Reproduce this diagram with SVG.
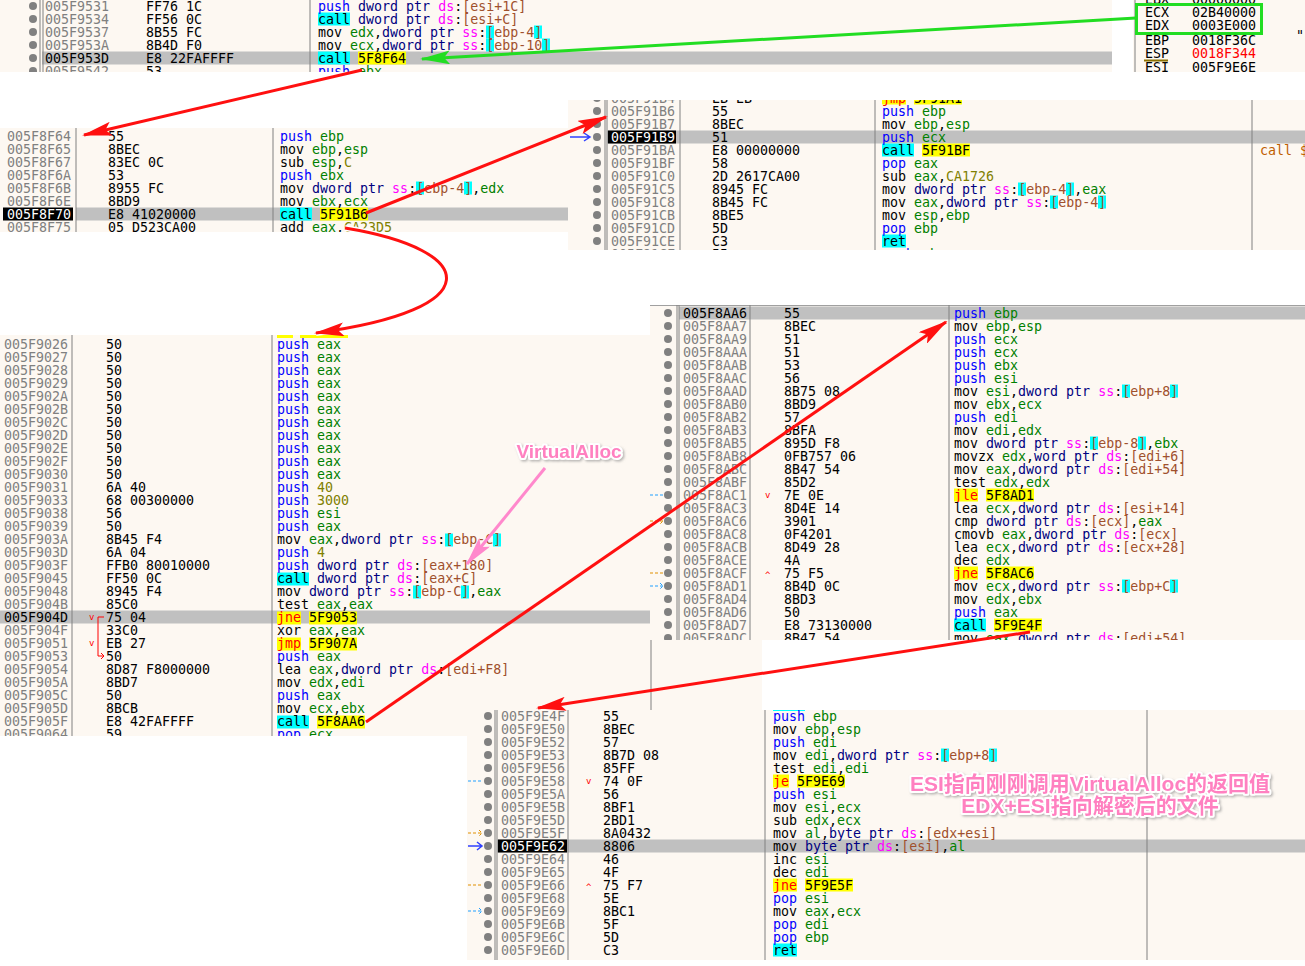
<svg xmlns="http://www.w3.org/2000/svg" width="1305" height="966" viewBox="0 0 1305 966">
<style>
text{font-family:"DejaVu Sans Mono","Liberation Mono",monospace;font-size:13.3px;fill:#000}
.a{fill:#808080}.w{fill:#fff}.p{fill:#0000ff}.r{fill:#008000}.k{fill:#000080}.s{fill:#ff00ff}.e{fill:#a0502d}.n{fill:#808000}.j{fill:#ff0000}
.bg{fill:#fdf8f2}.sel{fill:#c0c0c0}.blk{fill:#000}.cy{fill:#00ffff}.ye{fill:#ffff00}
.ln{stroke:#808080;stroke-width:1}.dot{fill:#808080}
.red{stroke:#ff1010;stroke-width:3;fill:none;marker-end:url(#ar)}
text.note{font-family:"Liberation Sans","Noto Sans CJK SC",sans-serif;font-weight:bold;fill:#ff80c0;stroke:#fff;stroke-width:4;paint-order:stroke;stroke-linejoin:round}
text.n1{font-size:19px}text.n2{font-size:21px}
text.jv{font-size:9px;fill:#ff0000}
</style>
<defs>
<marker id="ar" viewBox="0 0 30 14" refX="28" refY="7" markerWidth="30" markerHeight="14" markerUnits="userSpaceOnUse" orient="auto"><path d="M0,0 L30,7 L0,14 L6,7 Z" fill="#ff1010"/></marker>
<marker id="ag" viewBox="0 0 30 14" refX="28" refY="7" markerWidth="30" markerHeight="14" markerUnits="userSpaceOnUse" orient="auto"><path d="M0,0 L30,7 L0,14 L6,7 Z" fill="#22dd22"/></marker>
<marker id="ap" viewBox="0 0 30 14" refX="28" refY="7" markerWidth="30" markerHeight="14" markerUnits="userSpaceOnUse" orient="auto"><path d="M0,0 L30,7 L0,14 L6,7 Z" fill="#ff88cc"/></marker>
<clipPath id="cA"><rect x="0" y="0" width="1112" height="72"/></clipPath>
<clipPath id="cR"><rect x="1133" y="0" width="172" height="72"/></clipPath>
<clipPath id="cB"><rect x="0" y="128" width="568" height="104"/></clipPath>
<clipPath id="cC"><rect x="568" y="100" width="737" height="150"/></clipPath>
<clipPath id="cD"><rect x="0" y="335" width="762" height="401"/></clipPath>
<clipPath id="cE"><rect x="650" y="305" width="655" height="335"/></clipPath>
<clipPath id="cF"><rect x="467" y="710" width="838" height="250"/></clipPath>
<filter id="sh"><feDropShadow dx="1.5" dy="1.5" stdDeviation="1" flood-color="#888" flood-opacity="0.6"/></filter>
</defs>
<rect width="1305" height="966" fill="#fff"/>

<g id="panelA" clip-path="url(#cA)">
<rect class="bg" x="0" y="0" width="1112" height="72"/>
<rect class="sel" x="42" y="51.5" width="1070" height="13"/>
<line class="ln" x1="40" y1="0" x2="40" y2="72"/><line class="ln" x1="43" y1="0" x2="43" y2="72"/><line class="ln" x1="310" y1="0" x2="310" y2="72"/>
<circle class="dot" cx="33" cy="6" r="4"/><circle class="dot" cx="33" cy="19" r="4"/><circle class="dot" cx="33" cy="32" r="4"/><circle class="dot" cx="33" cy="45" r="4"/><circle class="dot" cx="33" cy="58" r="4"/><circle class="dot" cx="33" cy="71" r="4"/>
<text class="a"><tspan x="45" y="10.5">005F9531</tspan><tspan x="45" y="23.5">005F9534</tspan><tspan x="45" y="36.5">005F9537</tspan><tspan x="45" y="49.5">005F953A</tspan><tspan x="45" y="62.5" style="fill:#000">005F953D</tspan><tspan x="45" y="75.5">005F9542</tspan></text>
<text><tspan x="146" y="10.5">FF76 1C</tspan><tspan x="146" y="23.5">FF56 0C</tspan><tspan x="146" y="36.5">8B55 FC</tspan><tspan x="146" y="49.5">8B4D F0</tspan><tspan x="146" y="62.5">E8 22FAFFFF</tspan><tspan x="146" y="75.5">53</tspan></text>
<rect class="cy" x="318" y="12.5" width="32" height="13"/>
<rect class="cy" x="486" y="25.5" width="8" height="13"/><rect class="cy" x="534" y="25.5" width="8" height="13"/>
<rect class="cy" x="486" y="38.5" width="8" height="13"/><rect class="cy" x="542" y="38.5" width="8" height="13"/>
<rect class="cy" x="318" y="51.5" width="32" height="13"/><rect class="ye" x="358" y="51.5" width="48" height="13"/>
<text x="318" y="10.5"><tspan class="p">push</tspan> <tspan class="k">dword ptr</tspan> <tspan class="s">ds</tspan>:<tspan class="e">[esi+1C]</tspan></text>
<text x="318" y="23.5">call <tspan class="k">dword ptr</tspan> <tspan class="s">ds</tspan>:<tspan class="e">[esi+C]</tspan></text>
<text x="318" y="36.5">mov <tspan class="r">edx</tspan>,<tspan class="k">dword ptr</tspan> <tspan class="s">ss</tspan>:<tspan class="e">[ebp-4]</tspan></text>
<text x="318" y="49.5">mov <tspan class="r">ecx</tspan>,<tspan class="k">dword ptr</tspan> <tspan class="s">ss</tspan>:<tspan class="e">[ebp-10]</tspan></text>
<text x="318" y="62.5">call 5F8F64</text>
<text x="318" y="75.5"><tspan class="p">push</tspan> <tspan class="r">ebx</tspan></text>
</g>

<g id="registers" clip-path="url(#cR)">
<rect class="bg" x="1133" y="0" width="172" height="72"/>
<line class="ln" x1="1135" y1="0" x2="1135" y2="72"/>
<text><tspan x="1145" y="3.5">EBX</tspan><tspan x="1192" y="3.5">00000000</tspan><tspan x="1145" y="16.5">ECX</tspan><tspan x="1192" y="16.5">02B40000</tspan><tspan x="1145" y="29.5">EDX</tspan><tspan x="1192" y="29.5">0003E000</tspan><tspan x="1145" y="44.5">EBP</tspan><tspan x="1192" y="44.5">0018F36C</tspan><tspan x="1145" y="57.5">ESP</tspan><tspan x="1192" y="57.5" style="fill:#ff0000">0018F344</tspan><tspan x="1145" y="71.5">ESI</tspan><tspan x="1192" y="71.5">005F9E6E</tspan><tspan x="1296" y="40">"</tspan></text>
<line x1="1144" y1="60.5" x2="1168" y2="60.5" stroke="#8b7000" stroke-width="2"/>
<rect x="1136.5" y="4.5" width="125" height="29" fill="none" stroke="#22dd22" stroke-width="3"/>
</g>

<g id="panelB" clip-path="url(#cB)">
<rect class="bg" x="0" y="128" width="568" height="104"/>
<rect class="sel" x="76" y="207.5" width="492" height="13"/>
<rect class="blk" x="3" y="207.5" width="70" height="13"/>
<line class="ln" x1="76" y1="128" x2="76" y2="232"/><line class="ln" x1="273" y1="128" x2="273" y2="232"/>
<text class="a"><tspan x="7" y="140.5">005F8F64</tspan><tspan x="7" y="153.5">005F8F65</tspan><tspan x="7" y="166.5">005F8F67</tspan><tspan x="7" y="179.5">005F8F6A</tspan><tspan x="7" y="192.5">005F8F6B</tspan><tspan x="7" y="205.5">005F8F6E</tspan><tspan x="7" y="218.5" class="w">005F8F70</tspan><tspan x="7" y="231.5">005F8F75</tspan></text>
<text><tspan x="108" y="140.5">55</tspan><tspan x="108" y="153.5">8BEC</tspan><tspan x="108" y="166.5">83EC 0C</tspan><tspan x="108" y="179.5">53</tspan><tspan x="108" y="192.5">8955 FC</tspan><tspan x="108" y="205.5">8BD9</tspan><tspan x="108" y="218.5">E8 41020000</tspan><tspan x="108" y="231.5">05 D523CA00</tspan></text>
<rect class="cy" x="416" y="181.5" width="8" height="13"/><rect class="cy" x="464" y="181.5" width="8" height="13"/>
<rect class="cy" x="280" y="207.5" width="32" height="13"/><rect class="ye" x="320" y="207.5" width="48" height="13"/>
<text x="280" y="140.5"><tspan class="p">push</tspan> <tspan class="r">ebp</tspan></text>
<text x="280" y="153.5">mov <tspan class="r">ebp</tspan>,<tspan class="r">esp</tspan></text>
<text x="280" y="166.5">sub <tspan class="r">esp</tspan>,<tspan class="n">C</tspan></text>
<text x="280" y="179.5"><tspan class="p">push</tspan> <tspan class="r">ebx</tspan></text>
<text x="280" y="192.5">mov <tspan class="k">dword ptr</tspan> <tspan class="s">ss</tspan>:<tspan class="e">[ebp-4]</tspan>,<tspan class="r">edx</tspan></text>
<text x="280" y="205.5">mov <tspan class="r">ebx</tspan>,<tspan class="r">ecx</tspan></text>
<text x="280" y="218.5">call 5F91B6</text>
<text x="280" y="231.5">add <tspan class="r">eax</tspan>,<tspan class="n">CA23D5</tspan></text>
</g>

<g id="panelC" clip-path="url(#cC)">
<rect class="bg" x="568" y="100" width="737" height="150"/>
<rect class="sel" x="607" y="130.5" width="698" height="13"/>
<rect class="blk" x="608" y="130.5" width="68" height="13"/>
<line class="ln" x1="605" y1="100" x2="605" y2="250"/><line class="ln" x1="607" y1="100" x2="607" y2="250"/><line class="ln" x1="680" y1="100" x2="680" y2="250"/><line class="ln" x1="875" y1="100" x2="875" y2="250"/><line class="ln" x1="1252" y1="100" x2="1252" y2="250"/>
<g class="dot"><circle cx="597" cy="98" r="4"/><circle cx="597" cy="111" r="4"/><circle cx="597" cy="124" r="4"/><circle cx="597" cy="137" r="4"/><circle cx="597" cy="150" r="4"/><circle cx="597" cy="163" r="4"/><circle cx="597" cy="176" r="4"/><circle cx="597" cy="189" r="4"/><circle cx="597" cy="202" r="4"/><circle cx="597" cy="215" r="4"/><circle cx="597" cy="228" r="4"/><circle cx="597" cy="241" r="4"/></g>
<path d="M570,137 H590 M584,133 L590,137 L584,141" stroke="#3040ff" stroke-width="1.5" fill="none"/>
<text class="a"><tspan x="611" y="102.5">005F91B4</tspan><tspan x="611" y="115.5">005F91B6</tspan><tspan x="611" y="128.5">005F91B7</tspan><tspan x="611" y="141.5" class="w">005F91B9</tspan><tspan x="611" y="154.5">005F91BA</tspan><tspan x="611" y="167.5">005F91BF</tspan><tspan x="611" y="180.5">005F91C0</tspan><tspan x="611" y="193.5">005F91C5</tspan><tspan x="611" y="206.5">005F91C8</tspan><tspan x="611" y="219.5">005F91CB</tspan><tspan x="611" y="232.5">005F91CD</tspan><tspan x="611" y="245.5">005F91CE</tspan><tspan x="611" y="258.5">005F91CF</tspan></text>
<text><tspan x="712" y="102.5">EB EB</tspan><tspan x="712" y="115.5">55</tspan><tspan x="712" y="128.5">8BEC</tspan><tspan x="712" y="141.5">51</tspan><tspan x="712" y="154.5">E8 00000000</tspan><tspan x="712" y="167.5">58</tspan><tspan x="712" y="180.5">2D 2617CA00</tspan><tspan x="712" y="193.5">8945 FC</tspan><tspan x="712" y="206.5">8B45 FC</tspan><tspan x="712" y="219.5">8BE5</tspan><tspan x="712" y="232.5">5D</tspan><tspan x="712" y="245.5">C3</tspan><tspan x="712" y="258.5">55</tspan></text>
<rect class="ye" x="882" y="91.5" width="24" height="13"/><rect class="ye" x="914" y="91.5" width="48" height="13"/>
<rect class="cy" x="882" y="143.5" width="32" height="13"/><rect class="ye" x="922" y="143.5" width="48" height="13"/>
<rect class="cy" x="1018" y="182.5" width="8" height="13"/><rect class="cy" x="1066" y="182.5" width="8" height="13"/>
<rect class="cy" x="1050" y="195.5" width="8" height="13"/><rect class="cy" x="1098" y="195.5" width="8" height="13"/>
<rect class="cy" x="882" y="234.5" width="24" height="13"/>
<text x="882" y="102.5"><tspan class="j">jmp</tspan> 5F91A1</text>
<text x="882" y="115.5"><tspan class="p">push</tspan> <tspan class="r">ebp</tspan></text>
<text x="882" y="128.5">mov <tspan class="r">ebp</tspan>,<tspan class="r">esp</tspan></text>
<text x="882" y="141.5"><tspan class="p">push</tspan> <tspan class="r">ecx</tspan></text>
<text x="882" y="154.5">call 5F91BF</text>
<text x="882" y="167.5"><tspan class="p">pop</tspan> <tspan class="r">eax</tspan></text>
<text x="882" y="180.5">sub <tspan class="r">eax</tspan>,<tspan class="n">CA1726</tspan></text>
<text x="882" y="193.5">mov <tspan class="k">dword ptr</tspan> <tspan class="s">ss</tspan>:<tspan class="e">[ebp-4]</tspan>,<tspan class="r">eax</tspan></text>
<text x="882" y="206.5">mov <tspan class="r">eax</tspan>,<tspan class="k">dword ptr</tspan> <tspan class="s">ss</tspan>:<tspan class="e">[ebp-4]</tspan></text>
<text x="882" y="219.5">mov <tspan class="r">esp</tspan>,<tspan class="r">ebp</tspan></text>
<text x="882" y="232.5"><tspan class="p">pop</tspan> <tspan class="r">ebp</tspan></text>
<text x="882" y="245.5">ret</text>
<text x="882" y="258.5"><tspan class="p">push</tspan> <tspan class="r">ebp</tspan></text>
<text x="1260" y="154.5" style="fill:#c06000">call $</text>
</g>

<g id="panelD" clip-path="url(#cD)">
<rect class="bg" x="0" y="335" width="762" height="401"/>
<rect class="sel" x="0" y="610.5" width="650" height="13"/>
<line class="ln" x1="72" y1="335" x2="72" y2="736"/><line class="ln" x1="272" y1="335" x2="272" y2="736"/><line class="ln" x1="651" y1="335" x2="651" y2="736"/>
<rect class="ye" x="277" y="329" width="16" height="9"/><rect class="ye" x="300" y="329" width="48" height="9"/>
<text class="a"><tspan x="4" y="348.5">005F9026</tspan><tspan x="4" y="361.5">005F9027</tspan><tspan x="4" y="374.5">005F9028</tspan><tspan x="4" y="387.5">005F9029</tspan><tspan x="4" y="400.5">005F902A</tspan><tspan x="4" y="413.5">005F902B</tspan><tspan x="4" y="426.5">005F902C</tspan><tspan x="4" y="439.5">005F902D</tspan><tspan x="4" y="452.5">005F902E</tspan><tspan x="4" y="465.5">005F902F</tspan><tspan x="4" y="478.5">005F9030</tspan><tspan x="4" y="491.5">005F9031</tspan><tspan x="4" y="504.5">005F9033</tspan><tspan x="4" y="517.5">005F9038</tspan><tspan x="4" y="530.5">005F9039</tspan><tspan x="4" y="543.5">005F903A</tspan><tspan x="4" y="556.5">005F903D</tspan><tspan x="4" y="569.5">005F903F</tspan><tspan x="4" y="582.5">005F9045</tspan><tspan x="4" y="595.5">005F9048</tspan><tspan x="4" y="608.5">005F904B</tspan><tspan x="4" y="621.5" style="fill:#000">005F904D</tspan><tspan x="4" y="634.5">005F904F</tspan><tspan x="4" y="647.5">005F9051</tspan><tspan x="4" y="660.5">005F9053</tspan><tspan x="4" y="673.5">005F9054</tspan><tspan x="4" y="686.5">005F905A</tspan><tspan x="4" y="699.5">005F905C</tspan><tspan x="4" y="712.5">005F905D</tspan><tspan x="4" y="725.5">005F905F</tspan><tspan x="4" y="738.5">005F9064</tspan></text>
<text><tspan x="106" y="348.5">50</tspan><tspan x="106" y="361.5">50</tspan><tspan x="106" y="374.5">50</tspan><tspan x="106" y="387.5">50</tspan><tspan x="106" y="400.5">50</tspan><tspan x="106" y="413.5">50</tspan><tspan x="106" y="426.5">50</tspan><tspan x="106" y="439.5">50</tspan><tspan x="106" y="452.5">50</tspan><tspan x="106" y="465.5">50</tspan><tspan x="106" y="478.5">50</tspan><tspan x="106" y="491.5">6A 40</tspan><tspan x="106" y="504.5">68 00300000</tspan><tspan x="106" y="517.5">56</tspan><tspan x="106" y="530.5">50</tspan><tspan x="106" y="543.5">8B45 F4</tspan><tspan x="106" y="556.5">6A 04</tspan><tspan x="106" y="569.5">FFB0 80010000</tspan><tspan x="106" y="582.5">FF50 0C</tspan><tspan x="106" y="595.5">8945 F4</tspan><tspan x="106" y="608.5">85C0</tspan><tspan x="106" y="621.5">75 04</tspan><tspan x="106" y="634.5">33C0</tspan><tspan x="106" y="647.5">EB 27</tspan><tspan x="106" y="660.5">50</tspan><tspan x="106" y="673.5">8D87 F8000000</tspan><tspan x="106" y="686.5">8BD7</tspan><tspan x="106" y="699.5">50</tspan><tspan x="106" y="712.5">8BCB</tspan><tspan x="106" y="725.5">E8 42FAFFFF</tspan><tspan x="106" y="738.5">59</tspan></text>
<text class="jv" x="89" y="620">v</text><text class="jv" x="89" y="646">v</text>
<path d="M104,617 H98 V656 H104 M101,653 L104,656 L101,659" stroke="#ff0000" stroke-width="1" fill="none"/>
<rect class="cy" x="445" y="533.5" width="8" height="13"/><rect class="cy" x="493" y="533.5" width="8" height="13"/>
<rect class="cy" x="277" y="572.5" width="32" height="13"/>
<rect class="cy" x="413" y="585.5" width="8" height="13"/><rect class="cy" x="461" y="585.5" width="8" height="13"/>
<rect class="ye" x="277" y="611.5" width="24" height="13"/><rect class="ye" x="309" y="611.5" width="48" height="13"/>
<rect class="ye" x="277" y="637.5" width="24" height="13"/><rect class="ye" x="309" y="637.5" width="48" height="13"/>
<rect class="cy" x="277" y="715.5" width="32" height="13"/><rect class="ye" x="317" y="715.5" width="48" height="13"/>
<text x="277" y="348.5"><tspan class="p">push</tspan> <tspan class="r">eax</tspan></text>
<text x="277" y="361.5"><tspan class="p">push</tspan> <tspan class="r">eax</tspan></text>
<text x="277" y="374.5"><tspan class="p">push</tspan> <tspan class="r">eax</tspan></text>
<text x="277" y="387.5"><tspan class="p">push</tspan> <tspan class="r">eax</tspan></text>
<text x="277" y="400.5"><tspan class="p">push</tspan> <tspan class="r">eax</tspan></text>
<text x="277" y="413.5"><tspan class="p">push</tspan> <tspan class="r">eax</tspan></text>
<text x="277" y="426.5"><tspan class="p">push</tspan> <tspan class="r">eax</tspan></text>
<text x="277" y="439.5"><tspan class="p">push</tspan> <tspan class="r">eax</tspan></text>
<text x="277" y="452.5"><tspan class="p">push</tspan> <tspan class="r">eax</tspan></text>
<text x="277" y="465.5"><tspan class="p">push</tspan> <tspan class="r">eax</tspan></text>
<text x="277" y="478.5"><tspan class="p">push</tspan> <tspan class="r">eax</tspan></text>
<text x="277" y="491.5"><tspan class="p">push</tspan> <tspan class="n">40</tspan></text>
<text x="277" y="504.5"><tspan class="p">push</tspan> <tspan class="n">3000</tspan></text>
<text x="277" y="517.5"><tspan class="p">push</tspan> <tspan class="r">esi</tspan></text>
<text x="277" y="530.5"><tspan class="p">push</tspan> <tspan class="r">eax</tspan></text>
<text x="277" y="543.5">mov <tspan class="r">eax</tspan>,<tspan class="k">dword ptr</tspan> <tspan class="s">ss</tspan>:<tspan class="e">[ebp-C]</tspan></text>
<text x="277" y="556.5"><tspan class="p">push</tspan> <tspan class="n">4</tspan></text>
<text x="277" y="569.5"><tspan class="p">push</tspan> <tspan class="k">dword ptr</tspan> <tspan class="s">ds</tspan>:<tspan class="e">[eax+180]</tspan></text>
<text x="277" y="582.5">call <tspan class="k">dword ptr</tspan> <tspan class="s">ds</tspan>:<tspan class="e">[eax+C]</tspan></text>
<text x="277" y="595.5">mov <tspan class="k">dword ptr</tspan> <tspan class="s">ss</tspan>:<tspan class="e">[ebp-C]</tspan>,<tspan class="r">eax</tspan></text>
<text x="277" y="608.5">test <tspan class="r">eax</tspan>,<tspan class="r">eax</tspan></text>
<text x="277" y="621.5"><tspan class="j">jne</tspan> 5F9053</text>
<text x="277" y="634.5">xor <tspan class="r">eax</tspan>,<tspan class="r">eax</tspan></text>
<text x="277" y="647.5"><tspan class="j">jmp</tspan> 5F907A</text>
<text x="277" y="660.5"><tspan class="p">push</tspan> <tspan class="r">eax</tspan></text>
<text x="277" y="673.5">lea <tspan class="r">eax</tspan>,<tspan class="k">dword ptr</tspan> <tspan class="s">ds</tspan>:<tspan class="e">[edi+F8]</tspan></text>
<text x="277" y="686.5">mov <tspan class="r">edx</tspan>,<tspan class="r">edi</tspan></text>
<text x="277" y="699.5"><tspan class="p">push</tspan> <tspan class="r">eax</tspan></text>
<text x="277" y="712.5">mov <tspan class="r">ecx</tspan>,<tspan class="r">ebx</tspan></text>
<text x="277" y="725.5">call 5F8AA6</text>
<text x="277" y="738.5"><tspan class="p">pop</tspan> <tspan class="r">ecx</tspan></text>
</g>

<g id="panelE" clip-path="url(#cE)">
<rect class="bg" x="650" y="305" width="655" height="335"/>
<line x1="650" y1="305.5" x2="1305" y2="305.5" stroke="#a0a0a0"/>
<rect class="sel" x="679" y="306.5" width="626" height="13"/>
<line class="ln" x1="677" y1="305" x2="677" y2="640"/><line class="ln" x1="679" y1="305" x2="679" y2="640"/><line class="ln" x1="750" y1="305" x2="750" y2="640"/><line class="ln" x1="949" y1="305" x2="949" y2="640"/>
<g class="dot"><circle cx="668" cy="313" r="4"/><circle cx="668" cy="326" r="4"/><circle cx="668" cy="339" r="4"/><circle cx="668" cy="352" r="4"/><circle cx="668" cy="365" r="4"/><circle cx="668" cy="378" r="4"/><circle cx="668" cy="391" r="4"/><circle cx="668" cy="404" r="4"/><circle cx="668" cy="417" r="4"/><circle cx="668" cy="430" r="4"/><circle cx="668" cy="443" r="4"/><circle cx="668" cy="456" r="4"/><circle cx="668" cy="469" r="4"/><circle cx="668" cy="482" r="4"/><circle cx="668" cy="495" r="4"/><circle cx="668" cy="508" r="4"/><circle cx="668" cy="521" r="4"/><circle cx="668" cy="534" r="4"/><circle cx="668" cy="547" r="4"/><circle cx="668" cy="560" r="4"/><circle cx="668" cy="573" r="4"/><circle cx="668" cy="586" r="4"/><circle cx="668" cy="599" r="4"/><circle cx="668" cy="612" r="4"/><circle cx="668" cy="625" r="4"/><circle cx="668" cy="638" r="4"/></g>
<path d="M650,495 H664" stroke="#20a0ff" stroke-dasharray="3,2" fill="none"/>
<path d="M650,521 H663 M660,518 L663,521 L660,524" stroke="#e09000" stroke-dasharray="3,2" fill="none"/>
<path d="M650,573 H664" stroke="#e09000" stroke-dasharray="3,2" fill="none"/>
<path d="M650,586 H663 M660,583 L663,586 L660,589" stroke="#20a0ff" stroke-dasharray="3,2" fill="none"/>
<text class="a"><tspan x="683" y="317.5" style="fill:#000">005F8AA6</tspan><tspan x="683" y="330.5">005F8AA7</tspan><tspan x="683" y="343.5">005F8AA9</tspan><tspan x="683" y="356.5">005F8AAA</tspan><tspan x="683" y="369.5">005F8AAB</tspan><tspan x="683" y="382.5">005F8AAC</tspan><tspan x="683" y="395.5">005F8AAD</tspan><tspan x="683" y="408.5">005F8AB0</tspan><tspan x="683" y="421.5">005F8AB2</tspan><tspan x="683" y="434.5">005F8AB3</tspan><tspan x="683" y="447.5">005F8AB5</tspan><tspan x="683" y="460.5">005F8AB8</tspan><tspan x="683" y="473.5">005F8ABC</tspan><tspan x="683" y="486.5">005F8ABF</tspan><tspan x="683" y="499.5">005F8AC1</tspan><tspan x="683" y="512.5">005F8AC3</tspan><tspan x="683" y="525.5">005F8AC6</tspan><tspan x="683" y="538.5">005F8AC8</tspan><tspan x="683" y="551.5">005F8ACB</tspan><tspan x="683" y="564.5">005F8ACE</tspan><tspan x="683" y="577.5">005F8ACF</tspan><tspan x="683" y="590.5">005F8AD1</tspan><tspan x="683" y="603.5">005F8AD4</tspan><tspan x="683" y="616.5">005F8AD6</tspan><tspan x="683" y="629.5">005F8AD7</tspan><tspan x="683" y="642.5">005F8ADC</tspan></text>
<text><tspan x="784" y="317.5">55</tspan><tspan x="784" y="330.5">8BEC</tspan><tspan x="784" y="343.5">51</tspan><tspan x="784" y="356.5">51</tspan><tspan x="784" y="369.5">53</tspan><tspan x="784" y="382.5">56</tspan><tspan x="784" y="395.5">8B75 08</tspan><tspan x="784" y="408.5">8BD9</tspan><tspan x="784" y="421.5">57</tspan><tspan x="784" y="434.5">8BFA</tspan><tspan x="784" y="447.5">895D F8</tspan><tspan x="784" y="460.5">0FB757 06</tspan><tspan x="784" y="473.5">8B47 54</tspan><tspan x="784" y="486.5">85D2</tspan><tspan x="784" y="499.5">7E 0E</tspan><tspan x="784" y="512.5">8D4E 14</tspan><tspan x="784" y="525.5">3901</tspan><tspan x="784" y="538.5">0F4201</tspan><tspan x="784" y="551.5">8D49 28</tspan><tspan x="784" y="564.5">4A</tspan><tspan x="784" y="577.5">75 F5</tspan><tspan x="784" y="590.5">8B4D 0C</tspan><tspan x="784" y="603.5">8BD3</tspan><tspan x="784" y="616.5">50</tspan><tspan x="784" y="629.5">E8 73130000</tspan><tspan x="784" y="642.5">8B47 54</tspan></text>
<text class="jv" x="765" y="498">v</text><text class="jv" x="765" y="578">^</text>
<rect class="cy" x="1122" y="384.5" width="8" height="13"/><rect class="cy" x="1170" y="384.5" width="8" height="13"/>
<rect class="cy" x="1090" y="436.5" width="8" height="13"/><rect class="cy" x="1138" y="436.5" width="8" height="13"/>
<rect class="ye" x="954" y="488.5" width="24" height="13"/><rect class="ye" x="986" y="488.5" width="48" height="13"/>
<rect class="ye" x="954" y="566.5" width="24" height="13"/><rect class="ye" x="986" y="566.5" width="48" height="13"/>
<rect class="cy" x="1122" y="579.5" width="8" height="13"/><rect class="cy" x="1170" y="579.5" width="8" height="13"/>
<rect class="cy" x="954" y="618.5" width="32" height="13"/><rect class="ye" x="994" y="618.5" width="48" height="13"/>
<text x="954" y="317.5"><tspan class="p">push</tspan> <tspan class="r">ebp</tspan></text>
<text x="954" y="330.5">mov <tspan class="r">ebp</tspan>,<tspan class="r">esp</tspan></text>
<text x="954" y="343.5"><tspan class="p">push</tspan> <tspan class="r">ecx</tspan></text>
<text x="954" y="356.5"><tspan class="p">push</tspan> <tspan class="r">ecx</tspan></text>
<text x="954" y="369.5"><tspan class="p">push</tspan> <tspan class="r">ebx</tspan></text>
<text x="954" y="382.5"><tspan class="p">push</tspan> <tspan class="r">esi</tspan></text>
<text x="954" y="395.5">mov <tspan class="r">esi</tspan>,<tspan class="k">dword ptr</tspan> <tspan class="s">ss</tspan>:<tspan class="e">[ebp+8]</tspan></text>
<text x="954" y="408.5">mov <tspan class="r">ebx</tspan>,<tspan class="r">ecx</tspan></text>
<text x="954" y="421.5"><tspan class="p">push</tspan> <tspan class="r">edi</tspan></text>
<text x="954" y="434.5">mov <tspan class="r">edi</tspan>,<tspan class="r">edx</tspan></text>
<text x="954" y="447.5">mov <tspan class="k">dword ptr</tspan> <tspan class="s">ss</tspan>:<tspan class="e">[ebp-8]</tspan>,<tspan class="r">ebx</tspan></text>
<text x="954" y="460.5">movzx <tspan class="r">edx</tspan>,<tspan class="k">word ptr</tspan> <tspan class="s">ds</tspan>:<tspan class="e">[edi+6]</tspan></text>
<text x="954" y="473.5">mov <tspan class="r">eax</tspan>,<tspan class="k">dword ptr</tspan> <tspan class="s">ds</tspan>:<tspan class="e">[edi+54]</tspan></text>
<text x="954" y="486.5">test <tspan class="r">edx</tspan>,<tspan class="r">edx</tspan></text>
<text x="954" y="499.5"><tspan class="j">jle</tspan> 5F8AD1</text>
<text x="954" y="512.5">lea <tspan class="r">ecx</tspan>,<tspan class="k">dword ptr</tspan> <tspan class="s">ds</tspan>:<tspan class="e">[esi+14]</tspan></text>
<text x="954" y="525.5">cmp <tspan class="k">dword ptr</tspan> <tspan class="s">ds</tspan>:<tspan class="e">[ecx]</tspan>,<tspan class="r">eax</tspan></text>
<text x="954" y="538.5">cmovb <tspan class="r">eax</tspan>,<tspan class="k">dword ptr</tspan> <tspan class="s">ds</tspan>:<tspan class="e">[ecx]</tspan></text>
<text x="954" y="551.5">lea <tspan class="r">ecx</tspan>,<tspan class="k">dword ptr</tspan> <tspan class="s">ds</tspan>:<tspan class="e">[ecx+28]</tspan></text>
<text x="954" y="564.5">dec <tspan class="r">edx</tspan></text>
<text x="954" y="577.5"><tspan class="j">jne</tspan> 5F8AC6</text>
<text x="954" y="590.5">mov <tspan class="r">ecx</tspan>,<tspan class="k">dword ptr</tspan> <tspan class="s">ss</tspan>:<tspan class="e">[ebp+C]</tspan></text>
<text x="954" y="603.5">mov <tspan class="r">edx</tspan>,<tspan class="r">ebx</tspan></text>
<text x="954" y="616.5"><tspan class="p">push</tspan> <tspan class="r">eax</tspan></text>
<text x="954" y="629.5">call 5F9E4F</text>
<text x="954" y="642.5">mov <tspan class="r">eax</tspan>,<tspan class="k">dword ptr</tspan> <tspan class="s">ds</tspan>:<tspan class="e">[edi+54]</tspan></text>
</g>

<g id="panelF" clip-path="url(#cF)">
<rect class="bg" x="467" y="710" width="838" height="250"/>
<rect class="sel" x="497" y="839.5" width="808" height="13"/>
<rect class="blk" x="498" y="839.5" width="69" height="13"/>
<line class="ln" x1="495" y1="710" x2="495" y2="960"/><line class="ln" x1="497" y1="710" x2="497" y2="960"/><line class="ln" x1="568" y1="710" x2="568" y2="960"/><line class="ln" x1="765" y1="710" x2="765" y2="960"/><line class="ln" x1="1147" y1="710" x2="1147" y2="960"/>
<g class="dot"><circle cx="488" cy="716" r="4"/><circle cx="488" cy="729" r="4"/><circle cx="488" cy="742" r="4"/><circle cx="488" cy="755" r="4"/><circle cx="488" cy="768" r="4"/><circle cx="488" cy="781" r="4"/><circle cx="488" cy="794" r="4"/><circle cx="488" cy="807" r="4"/><circle cx="488" cy="820" r="4"/><circle cx="488" cy="833" r="4"/><circle cx="488" cy="846" r="4"/><circle cx="488" cy="859" r="4"/><circle cx="488" cy="872" r="4"/><circle cx="488" cy="885" r="4"/><circle cx="488" cy="898" r="4"/><circle cx="488" cy="911" r="4"/><circle cx="488" cy="924" r="4"/><circle cx="488" cy="937" r="4"/><circle cx="488" cy="950" r="4"/></g>
<path d="M468,781 H483" stroke="#20a0ff" stroke-dasharray="3,2" fill="none"/>
<path d="M468,833 H482 M479,830 L482,833 L479,836" stroke="#e09000" stroke-dasharray="3,2" fill="none"/>
<path d="M468,846 H482 M477,842 L482,846 L477,850" stroke="#3040ff" stroke-width="1.5" fill="none"/>
<path d="M468,885 H483" stroke="#e09000" stroke-dasharray="3,2" fill="none"/>
<path d="M468,911 H482 M479,908 L482,911 L479,914" stroke="#20a0ff" stroke-dasharray="3,2" fill="none"/>
<text class="a"><tspan x="501" y="720.5">005F9E4F</tspan><tspan x="501" y="733.5">005F9E50</tspan><tspan x="501" y="746.5">005F9E52</tspan><tspan x="501" y="759.5">005F9E53</tspan><tspan x="501" y="772.5">005F9E56</tspan><tspan x="501" y="785.5">005F9E58</tspan><tspan x="501" y="798.5">005F9E5A</tspan><tspan x="501" y="811.5">005F9E5B</tspan><tspan x="501" y="824.5">005F9E5D</tspan><tspan x="501" y="837.5">005F9E5F</tspan><tspan x="501" y="850.5" class="w">005F9E62</tspan><tspan x="501" y="863.5">005F9E64</tspan><tspan x="501" y="876.5">005F9E65</tspan><tspan x="501" y="889.5">005F9E66</tspan><tspan x="501" y="902.5">005F9E68</tspan><tspan x="501" y="915.5">005F9E69</tspan><tspan x="501" y="928.5">005F9E6B</tspan><tspan x="501" y="941.5">005F9E6C</tspan><tspan x="501" y="954.5">005F9E6D</tspan></text>
<text><tspan x="603" y="720.5">55</tspan><tspan x="603" y="733.5">8BEC</tspan><tspan x="603" y="746.5">57</tspan><tspan x="603" y="759.5">8B7D 08</tspan><tspan x="603" y="772.5">85FF</tspan><tspan x="603" y="785.5">74 0F</tspan><tspan x="603" y="798.5">56</tspan><tspan x="603" y="811.5">8BF1</tspan><tspan x="603" y="824.5">2BD1</tspan><tspan x="603" y="837.5">8A0432</tspan><tspan x="603" y="850.5">8806</tspan><tspan x="603" y="863.5">46</tspan><tspan x="603" y="876.5">4F</tspan><tspan x="603" y="889.5">75 F7</tspan><tspan x="603" y="902.5">5E</tspan><tspan x="603" y="915.5">8BC1</tspan><tspan x="603" y="928.5">5F</tspan><tspan x="603" y="941.5">5D</tspan><tspan x="603" y="954.5">C3</tspan></text>
<text class="jv" x="586" y="784">v</text><text class="jv" x="586" y="890">^</text>
<rect class="cy" x="773" y="708" width="32" height="3"/>
<rect class="cy" x="941" y="748.5" width="8" height="13"/><rect class="cy" x="989" y="748.5" width="8" height="13"/>
<rect class="ye" x="773" y="774.5" width="16" height="13"/><rect class="ye" x="797" y="774.5" width="48" height="13"/>
<rect class="ye" x="773" y="878.5" width="24" height="13"/><rect class="ye" x="805" y="878.5" width="48" height="13"/>
<rect class="cy" x="773" y="943.5" width="24" height="13"/>
<text x="773" y="720.5"><tspan class="p">push</tspan> <tspan class="r">ebp</tspan></text>
<text x="773" y="733.5">mov <tspan class="r">ebp</tspan>,<tspan class="r">esp</tspan></text>
<text x="773" y="746.5"><tspan class="p">push</tspan> <tspan class="r">edi</tspan></text>
<text x="773" y="759.5">mov <tspan class="r">edi</tspan>,<tspan class="k">dword ptr</tspan> <tspan class="s">ss</tspan>:<tspan class="e">[ebp+8]</tspan></text>
<text x="773" y="772.5">test <tspan class="r">edi</tspan>,<tspan class="r">edi</tspan></text>
<text x="773" y="785.5"><tspan class="j">je</tspan> 5F9E69</text>
<text x="773" y="798.5"><tspan class="p">push</tspan> <tspan class="r">esi</tspan></text>
<text x="773" y="811.5">mov <tspan class="r">esi</tspan>,<tspan class="r">ecx</tspan></text>
<text x="773" y="824.5">sub <tspan class="r">edx</tspan>,<tspan class="r">ecx</tspan></text>
<text x="773" y="837.5">mov <tspan class="r">al</tspan>,<tspan class="k">byte ptr</tspan> <tspan class="s">ds</tspan>:<tspan class="e">[edx+esi]</tspan></text>
<text x="773" y="850.5">mov <tspan class="k">byte ptr</tspan> <tspan class="s">ds</tspan>:<tspan class="e">[esi]</tspan>,<tspan class="r">al</tspan></text>
<text x="773" y="863.5">inc <tspan class="r">esi</tspan></text>
<text x="773" y="876.5">dec <tspan class="r">edi</tspan></text>
<text x="773" y="889.5"><tspan class="j">jne</tspan> 5F9E5F</text>
<text x="773" y="902.5"><tspan class="p">pop</tspan> <tspan class="r">esi</tspan></text>
<text x="773" y="915.5">mov <tspan class="r">eax</tspan>,<tspan class="r">ecx</tspan></text>
<text x="773" y="928.5"><tspan class="p">pop</tspan> <tspan class="r">edi</tspan></text>
<text x="773" y="941.5"><tspan class="p">pop</tspan> <tspan class="r">ebp</tspan></text>
<text x="773" y="954.5">ret</text>
</g>

<g id="connectors">
<path d="M1136,18 L422,59" stroke="#22dd22" stroke-width="3" fill="none" marker-end="url(#ag)"/>
<path class="red" d="M362,70 L84,135"/>
<path class="red" d="M366,213 L606,117"/>
<path d="M345,228 C480,250 490,310 316,333" stroke="#fff" stroke-width="6" fill="none"/>
<path class="red" d="M345,228 C480,250 490,310 316,333"/>
<path class="red" d="M366,722 L946,322"/>
<path class="red" d="M1030,632 L538,708"/>
<path d="M545,468 L467,564" stroke="#ff88cc" stroke-width="3" fill="none" marker-end="url(#ap)"/>
</g>

<g id="notes" filter="url(#sh)">
<text class="note n1" x="569" y="458" text-anchor="middle">VirtualAlloc</text>
<text class="note n2" x="1090" y="791" text-anchor="middle">ESI指向刚刚调用VirtualAlloc的返回值</text>
<text class="note n2" x="1090" y="813" text-anchor="middle">EDX+ESI指向解密后的文件</text>
</g>
</svg>
